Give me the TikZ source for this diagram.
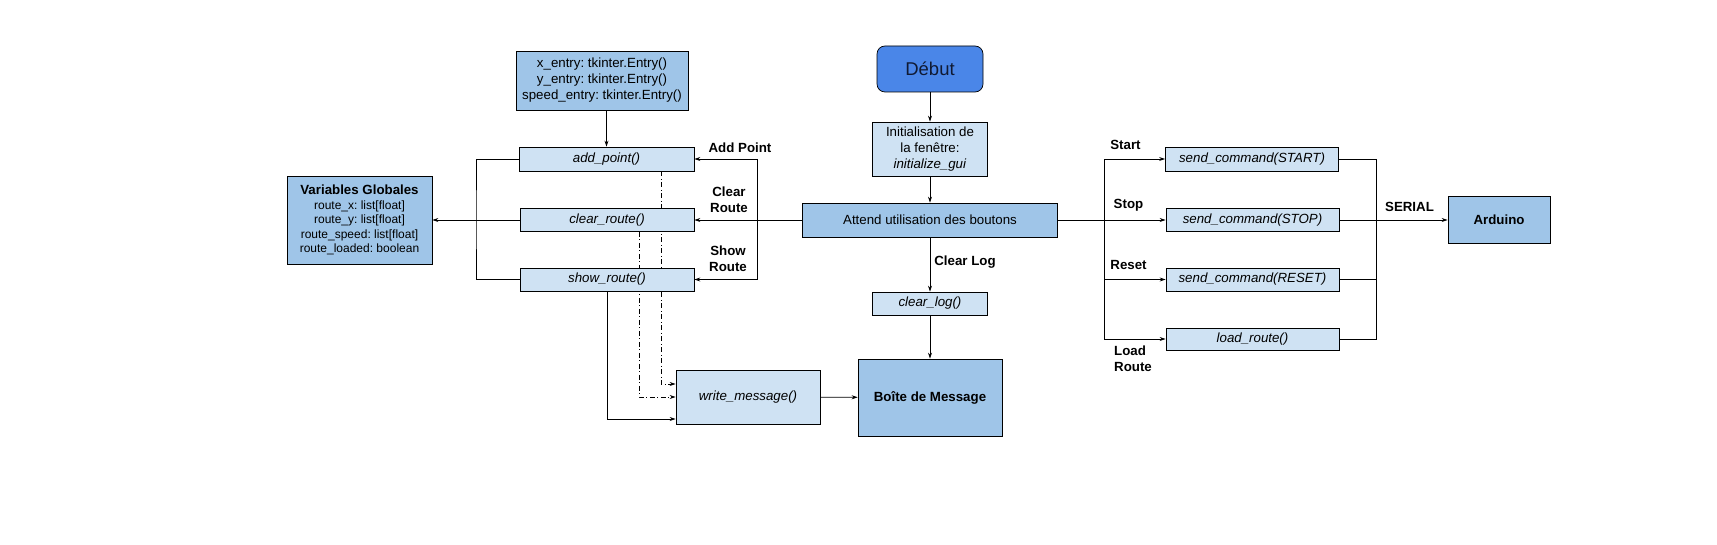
\documentclass[tikz,border=0pt]{standalone}
\usepackage{fontspec}
\setmainfont{Liberation Sans}
\frenchspacing
\usetikzlibrary{arrows.meta,backgrounds}
\definecolor{lightblue}{HTML}{CFE2F3}
\definecolor{midblue}{HTML}{9FC5E8}
\definecolor{darkblue}{HTML}{4A86E8}
\definecolor{navytext}{HTML}{101A33}
\tikzset{
  box/.style={draw=black, line width=0.7pt, inner sep=2pt, align=center, font=\fontsize{13.3}{16}\selectfont},
  lbox/.style={box, fill=lightblue},
  mbox/.style={box, fill=midblue},
  fn/.style={lbox, font=\fontsize{13.3}{16}\selectfont\itshape},
  conn/.style={line width=0.8pt},
  arr/.style={conn, -{Stealth[length=6pt,width=4pt]}},
  dashdotline/.style={arr, dash pattern=on 5pt off 2.5pt on 1pt off 2.5pt},
  lab/.style={font=\fontsize{13.3}{16}\selectfont\bfseries, align=center, inner sep=0pt}
}
\begin{document}
\begin{tikzpicture}[x=1pt,y=-1pt]
\useasboundingbox (0,0) rectangle (1717,545);
% center column
\node[box, fill=darkblue, rounded corners=8pt, minimum width=106pt, minimum height=46pt, font=\fontsize{18.5}{20}\selectfont, text=navytext] (debut) at (930,69) {Début};
\node[lbox, minimum width=115pt, minimum height=54pt] (init) at (930,149) {Initialisation de\\la fenêtre:\\\textit{initialize\_gui}};
\node[mbox, minimum width=255pt, minimum height=34pt] (attend) at (930,220) {Attend utilisation des boutons};
\node[fn, minimum width=115pt, minimum height=23pt] (clearlog) at (930,303.5) {clear\_log()};
\node[mbox, minimum width=144pt, minimum height=77pt, font=\fontsize{13.3}{16}\selectfont\bfseries] (boite) at (930,397.5) {Boîte de Message};
% left column
\node[mbox, minimum width=172pt, minimum height=59pt] (entry) at (602,80.5) {x\_entry: tkinter.Entry()\\y\_entry: tkinter.Entry()\\speed\_entry: tkinter.Entry()};
\node[fn, minimum width=175pt, minimum height=24pt] (addpoint) at (606.5,159) {add\_point()};
\node[fn, minimum width=174pt, minimum height=23pt] (clearroute) at (607,220) {clear\_route()};
\node[fn, minimum width=174pt, minimum height=23pt] (showroute) at (607,279.5) {show\_route()};
\node[mbox, minimum width=145pt, minimum height=88pt, font=\fontsize{12}{14.5}\selectfont] (vars) at (359.5,220) {{\fontsize{13.3}{16}\selectfont\bfseries Variables Globales}\\route\_x: list[float]\\route\_y: list[float]\\route\_speed: list[float]\\route\_loaded: boolean};
\node[fn, minimum width=144pt, minimum height=54pt] (writemsg) at (748,397) {write\_message()};
% right column
\node[fn, minimum width=173pt, minimum height=24pt] (start) at (1252,159) {send\_command(START)};
\node[fn, minimum width=173pt, minimum height=23pt] (stop) at (1252.5,220) {send\_command(STOP)};
\node[fn, minimum width=173pt, minimum height=23pt] (reset) at (1252.5,279.5) {send\_command(RESET)};
\node[fn, minimum width=173pt, minimum height=22pt] (load) at (1252.5,339) {load\_route()};
\node[mbox, minimum width=102pt, minimum height=47pt, font=\fontsize{13.3}{16}\selectfont\bfseries] (arduino) at (1499,220) {Arduino};
% coordinates
\coordinate (lbus) at (476,220);
\coordinate (rbusL) at (757,220);
\coordinate (cbus) at (1104,220);
\coordinate (rbus) at (1376,220);
% labels
\node[lab] (lAdd) at (740,148) {Add Point};
\node[lab] (lClear) at (729,200) {Clear\\Route};
\node[lab] (lShow) at (728,259) {Show\\Route};
\node[lab] (lLog) at (965,262) {Clear Log};
\node[lab] (lStart) at (1125.5,144.5) {Start};
\node[lab] (lStop) at (1128.5,205) {Stop};
\node[lab] (lReset) at (1128.5,265) {Reset};
\node[lab, align=left] (lLoad) at (1133,358.5) {Load\\Route};
\node[lab] (lSerial) at (1409.5,207) {SERIAL};
% connectors
\begin{pgfonlayer}{background}
\draw[arr] (debut) -- (init);
\draw[arr] (init) -- (attend);
\draw[arr] (attend.south) -- (clearlog.north);
\draw[arr] (clearlog) -- (boite);
\draw[arr] (entry.south -| addpoint.north) -- (addpoint.north);
\draw[arr] (attend.west) -- (clearroute.east);
\draw[arr] (rbusL) |- (addpoint.east);
\draw[arr] (rbusL) |- (showroute.east);
\draw[conn] (addpoint.west) -| (lbus) |- (showroute.west);
\draw[arr] (clearroute.west) -- (vars.east);
\draw[arr] (showroute.south) |- (writemsg.west |- 0,419);
\draw[dashdotline] (clearroute.south -| 639,0) |- (writemsg.west);
\draw[dashdotline] (addpoint.south -| 661,0) |- (writemsg.west |- 0,384);
\draw[arr] (writemsg) -- (boite);
\draw[arr] (attend.east) -- (stop.west);
\draw[arr] (cbus) |- (start.west);
\draw[arr] (cbus) |- (reset.west);
\draw[arr] (cbus) |- (load.west);
\draw[conn] (start.east) -| (rbus) |- (load.east);
\draw[conn] (reset.east) -- (reset.east -| rbus);
\draw[arr] (stop.east) -- (arduino.west);
\end{pgfonlayer}
\end{tikzpicture}
\end{document}
